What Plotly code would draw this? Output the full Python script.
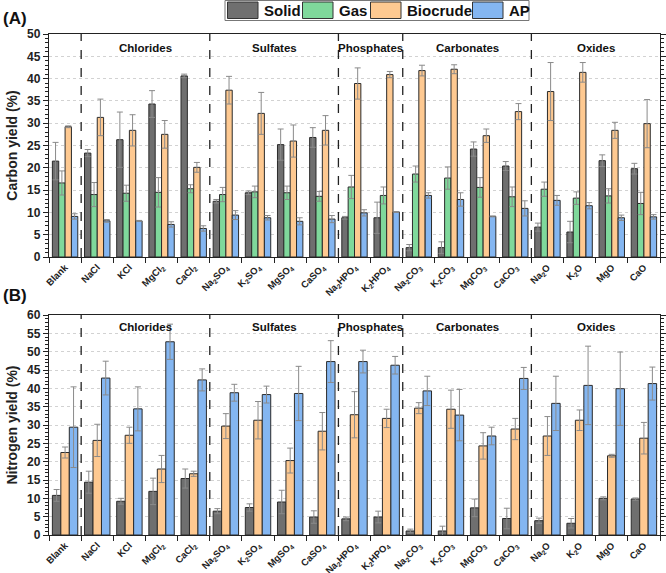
import plotly.graph_objects as go

categories = ["Blank", "NaCl", "KCl", "MgCl<sub>2</sub>", "CaCl<sub>2</sub>",
              "Na<sub>2</sub>SO<sub>4</sub>", "K<sub>2</sub>SO<sub>4</sub>", "MgSO<sub>4</sub>", "CaSO<sub>4</sub>",
              "Na<sub>2</sub>HPO<sub>4</sub>", "K<sub>2</sub>HPO<sub>4</sub>",
              "Na<sub>2</sub>CO<sub>3</sub>", "K<sub>2</sub>CO<sub>3</sub>", "MgCO<sub>3</sub>", "CaCO<sub>3</sub>",
              "Na<sub>2</sub>O", "K<sub>2</sub>O", "MgO", "CaO"]
groups = [("Chlorides", 1, 4), ("Sulfates", 5, 8), ("Phosphates", 9, 10),
          ("Carbonates", 11, 14), ("Oxides", 15, 18)]
series_names = ["Solid", "Gas", "Biocrude", "AP"]

# Carbon yield (%)
c_solid = [21.5, 23.3, 26.3, 34.3, 40.6, 12.5, 14.4, 25.2, 26.8, 8.8, 8.8, 2.1, 2.1, 24.2, 20.4, 6.7, 5.6, 21.6, 19.8]
c_solid_err = [4.2, 0.8, 6.2, 3.0, 0.4, 0.4, 0.4, 3.5, 2.2, 0.3, 3.5, 0.7, 1.3, 1.6, 1.0, 0.9, 2.4, 1.3, 1.2]
c_gas = [16.6, 14.0, 14.3, 14.5, 15.3, 14.0, 14.6, 14.4, 13.6, 15.7, 13.8, 18.6, 17.7, 15.6, 13.5, 15.2, 13.2, 13.7, 12.0]
c_gas_err = [2.7, 2.7, 1.8, 3.3, 0.9, 1.6, 1.3, 1.5, 1.1, 2.6, 1.9, 1.8, 2.5, 2.2, 2.2, 1.6, 1.4, 1.6, 2.5]
c_bio = [29.2, 31.3, 28.4, 27.5, 20.1, 37.4, 32.2, 26.0, 28.4, 38.9, 40.9, 41.8, 42.1, 27.2, 32.6, 37.1, 41.4, 28.4, 29.9]
c_bio_err = [0.2, 4.1, 3.5, 3.1, 1.1, 3.1, 4.7, 3.6, 3.3, 3.5, 0.7, 1.2, 1.0, 1.5, 1.8, 6.5, 2.2, 1.8, 5.4]
c_ap = [9.1, 8.1, 8.1, 7.3, 6.4, 9.4, 8.8, 8.0, 8.5, 9.9, 10.1, 13.8, 12.9, 9.1, 10.9, 12.7, 11.5, 8.8, 9.0]
c_ap_err = [0.6, 0.3, 0.1, 0.6, 0.6, 1.0, 0.5, 0.8, 0.8, 0.7, 0.1, 0.6, 1.5, 0.1, 1.7, 1.1, 0.7, 0.6, 0.5]

# Nitrogen yield (%)
n_solid = [10.8, 14.4, 9.2, 11.9, 15.4, 6.5, 7.5, 9.0, 4.9, 4.4, 4.9, 1.1, 1.1, 7.4, 4.5, 3.9, 3.2, 10.0, 9.8]
n_solid_err = [1.6, 3.0, 0.8, 3.6, 2.6, 0.7, 1.0, 3.2, 1.7, 0.5, 1.6, 0.5, 1.3, 2.4, 2.8, 0.7, 1.3, 0.4, 0.3]
n_bio = [22.5, 25.8, 27.2, 18.0, 16.7, 29.7, 31.3, 20.3, 28.3, 32.8, 31.8, 34.6, 34.3, 24.3, 28.9, 27.0, 31.3, 21.6, 26.4]
n_bio_err = [1.5, 4.4, 2.2, 3.7, 0.7, 3.4, 5.1, 3.4, 5.1, 6.3, 2.5, 1.5, 5.2, 3.6, 2.9, 5.3, 2.8, 0.4, 4.3]
n_ap = [29.4, 42.8, 34.4, 52.7, 42.3, 38.8, 38.3, 38.6, 47.3, 47.3, 46.3, 39.3, 32.7, 27.0, 42.7, 35.9, 40.8, 39.9, 41.3]
n_ap_err = [11.0, 4.6, 6.0, 4.8, 3.0, 2.3, 2.3, 7.4, 5.7, 3.1, 2.4, 4.0, 7.0, 2.4, 3.0, 7.4, 10.7, 10.0, 4.5]

colors = {"Solid": "#6f6f6f", "Gas": "#7fd89b", "Biocrude": "#fec991", "AP": "#84b6f1"}
FONT = "Liberation Sans"
ERR = dict(type="data", symmetric=True, color="#8a8a8a", thickness=1, width=3)

W, H = 666, 573
ML, MR, MT, MB = 49, 6, 34, 38
PW, PH = W - ML - MR, H - MT - MB

def px(xp):
    return (xp - ML) / PW

def py(yp):
    return (H - MB - yp) / PH

fig = go.Figure()

def add_bar(name, vals, errs, xa, ya):
    fig.add_trace(go.Bar(
        x=categories, y=vals, name=name, xaxis=xa, yaxis=ya,
        marker=dict(color=colors[name], line=dict(color="#2b2b2b", width=1)),
        error_y=dict(ERR, array=errs), showlegend=False,
    ))

add_bar("Solid", c_solid, c_solid_err, "x", "y")
add_bar("Gas", c_gas, c_gas_err, "x", "y")
add_bar("Biocrude", c_bio, c_bio_err, "x", "y")
add_bar("AP", c_ap, c_ap_err, "x", "y")
add_bar("Solid", n_solid, n_solid_err, "x2", "y2")
add_bar("Biocrude", n_bio, n_bio_err, "x2", "y2")
add_bar("AP", n_ap, n_ap_err, "x2", "y2")

xcommon = dict(type="category", tickson="boundaries", ticks="outside", ticklen=5,
               tickcolor="#222", showline=True, linecolor="#222", linewidth=1.3,
               mirror=True, tickangle=-45, automargin=False,
               tickfont=dict(family=FONT, size=9.5, color="#222"),
               range=[-0.5, len(categories) - 0.5], showgrid=False,
               tickvals=categories, ticktext=["<b>%s</b>" % c for c in categories])
ycommon = dict(ticks="outside", ticklen=5, tickcolor="#222", showline=True,
               linecolor="#222", linewidth=1.3, mirror="ticks", automargin=False,
               tickfont=dict(family=FONT, size=12, color="#222"),
               tickprefix="<b>", ticksuffix="</b>",
               showgrid=True, gridcolor="#d2d2d2", griddash="dot", gridwidth=1,
               zeroline=False,
               minor=dict(ticks="outside", ticklen=3, tickcolor="#222", showgrid=False))

yA_top, yA_bot = 34, 257
yB_top, yB_bot = 315, 535

fig.update_layout(
    width=W, height=H,
    margin=dict(l=ML, r=MR, t=MT, b=MB),
    plot_bgcolor="white", paper_bgcolor="white",
    barmode="group", bargap=0.21, bargroupgap=0,
    font=dict(family=FONT, color="#222"),
    showlegend=False,
    xaxis=dict(xcommon, domain=[0, 1], anchor="y"),
    yaxis=dict(ycommon, domain=[py(yA_bot), py(yA_top)], range=[0, 50], dtick=5,
               title=dict(text="<b>Carbon yield (%)</b>", font=dict(family=FONT, size=14), standoff=6),
               anchor="x"),
    xaxis2=dict(xcommon, domain=[0, 1], anchor="y2"),
    yaxis2=dict(ycommon, domain=[py(yB_bot), py(yB_top)], range=[0, 60], dtick=5,
                title=dict(text="<b>Nitrogen yield (%)</b>", font=dict(family=FONT, size=14), standoff=6),
                anchor="x2"),
)

shapes = []
annotations = []
for ax_x, ax_y, ylab in [("x", "y", 46.9), ("x2", "y2", 56.8)]:
    for name, i0, i1 in groups:
        shapes.append(dict(type="line", xref=ax_x, yref=ax_y + " domain",
                           x0=i0 - 0.5, x1=i0 - 0.5, y0=0, y1=1,
                           line=dict(color="#222", width=1.3, dash="dash")))
        annotations.append(dict(text="<b>%s</b>" % name, xref=ax_x, yref=ax_y,
                                x=(i0 + i1) / 2, y=ylab, showarrow=False,
                                font=dict(family=FONT, size=11.5, color="#111")))

# manual legend (pixel layout converted to paper coordinates)
leg_left, leg_right, leg_top, leg_bot = 225, 529, 0.5, 20.5
shapes.append(dict(type="rect", xref="paper", yref="paper",
                   x0=px(leg_left), x1=px(leg_right), y0=py(leg_bot), y1=py(leg_top),
                   line=dict(color="#777", width=1), fillcolor="white", layer="above"))
box_x = [227.5, 302.5, 370.5, 472.5]
for name, bx in zip(series_names, box_x):
    shapes.append(dict(type="rect", xref="paper", yref="paper",
                       x0=px(bx), x1=px(bx + 30.5), y0=py(18.5), y1=py(2),
                       line=dict(color="#333", width=1), fillcolor=colors[name], layer="above"))
    annotations.append(dict(text="<b>%s</b>" % name, xref="paper", yref="paper",
                            x=px(bx + 34), y=py(10.5), xanchor="left", yanchor="middle",
                            showarrow=False, font=dict(family=FONT, size=15, color="#111")))

annotations.append(dict(text="<b>(A)</b>", xref="paper", yref="paper", x=px(1), y=py(7),
                        xanchor="left", yanchor="top", showarrow=False,
                        font=dict(family=FONT, size=17, color="#111")))
annotations.append(dict(text="<b>(B)</b>", xref="paper", yref="paper", x=px(1), y=py(284),
                        xanchor="left", yanchor="top", showarrow=False,
                        font=dict(family=FONT, size=17, color="#111")))
fig.update_layout(shapes=shapes, annotations=annotations)

fig.write_html("out.html")
